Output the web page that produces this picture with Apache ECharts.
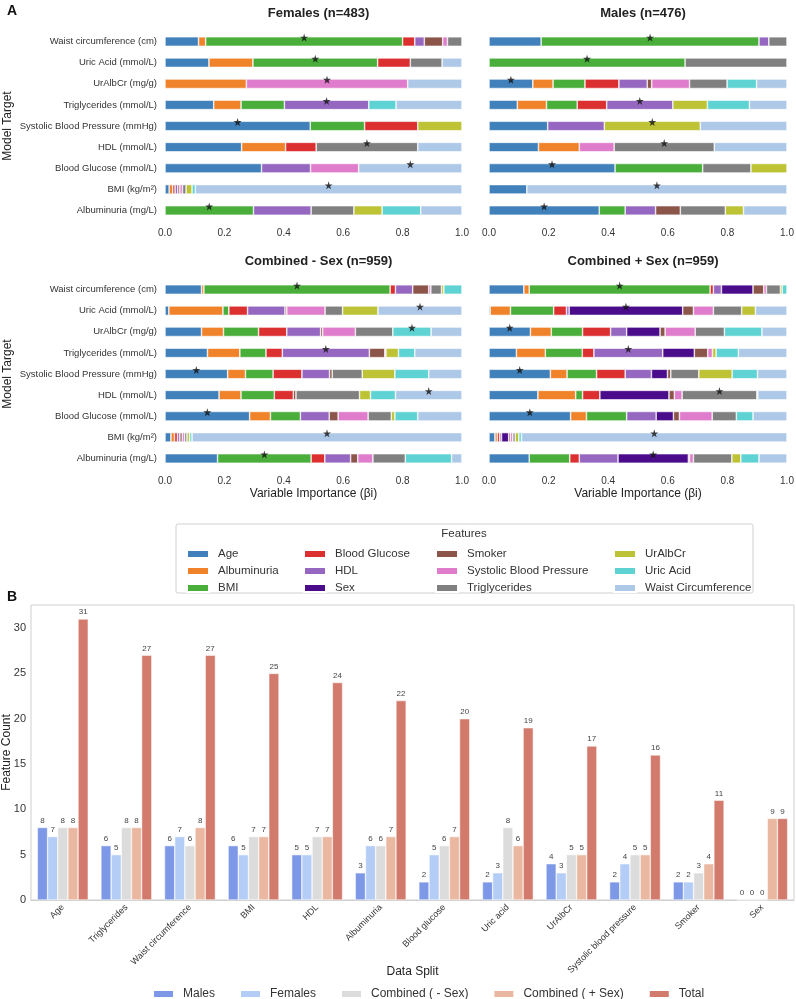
<!DOCTYPE html>
<html>
<head>
<meta charset="utf-8">
<script src="https://cdn.jsdelivr.net/npm/echarts@6/dist/echarts.min.js"></script>
<style>
  html, body { margin: 0; padding: 0; background: #fff; }
  #chart { width: 796px; height: 999px; }
</style>
</head>
<body>
<div id="chart"></div>
<script>
// Panel A: feature importance per model target, stacked to 1.0

const features = ['Age', 'Albuminuria', 'BMI', 'Blood Glucose', 'HDL', 'Sex', 'Smoker',
    'Systolic Blood Pressure', 'Triglycerides', 'UrAlbCr', 'Uric Acid', 'Waist Circumference'];
const featureColors = ['#4181bb', '#f0822a', '#49ae3a', '#dc2f30', '#9567c0', '#4b0c8c', '#8b554a',
    '#e07ccc', '#808080', '#bdc334', '#5fd3d4', '#aec8e8'];

// top to bottom
const targets = ['Waist circumference (cm)', 'Uric Acid (mmol/L)', 'UrAlbCr (mg/g)', 'Triglycerides (mmol/L)',
    'Systolic Blood Pressure (mmHg)', 'HDL (mmol/L)', 'Blood Glucose (mmol/L)', 'BMI (kg/m²)', 'Albuminuria (mg/L)'];

// one row per target, one column per feature (same order as features)
const femalesImp = [
    [.113, .024, .663, .041, .032, 0, .062, .016, .049, 0, 0, 0],
    [.148, .148, .420, .110, 0, 0, 0, 0, .107, 0, 0, .067],
    [0, .274, 0, 0, 0, 0, 0, .543, 0, 0, 0, .183],
    [.164, .092, .146, 0, .284, 0, 0, 0, 0, 0, .092, .222],
    [.489, 0, .183, .179, 0, 0, 0, 0, 0, .149, 0, 0],
    [.258, .148, 0, .103, 0, 0, 0, 0, .342, 0, 0, .149],
    [.325, 0, 0, 0, .165, 0, 0, .162, 0, 0, 0, .348],
    [.014, .012, 0, .008, .009, 0, .007, .009, .012, .020, .011, .898],
    [0, 0, .298, 0, .194, 0, 0, 0, .144, .095, .130, .139]
];
const malesImp = [
    [.175, 0, .731, 0, .033, 0, 0, 0, .061, 0, 0, 0],
    [0, 0, .658, 0, 0, 0, 0, 0, .342, 0, 0, 0],
    [.147, .068, .107, .114, .095, 0, .015, .127, .126, 0, .099, .102],
    [.095, .098, .103, .099, .222, 0, 0, 0, 0, .116, .141, .126],
    [.197, 0, 0, 0, .190, 0, 0, 0, 0, .322, 0, .291],
    [.166, .137, 0, 0, 0, 0, 0, .117, .336, 0, 0, .244],
    [.423, 0, .294, 0, 0, 0, 0, 0, .162, .121, 0, 0],
    [.127, 0, 0, 0, 0, 0, 0, 0, 0, 0, 0, .873],
    [.370, 0, .087, 0, .102, 0, .083, 0, .151, .061, 0, .146]
];
const combNoSexImp = [
    [.123, .008, .627, .018, .058, 0, .054, .007, .036, .008, .061, 0],
    [.013, .182, .020, .063, .126, 0, .006, .129, .059, .119, 0, .283],
    [.123, .074, .118, .095, .114, 0, .007, .110, .126, 0, .129, .104],
    [.143, .109, .088, .055, .293, 0, .052, .004, 0, .042, .055, .159],
    [.211, .060, .093, .097, .093, 0, .009, 0, .101, .110, .114, .112],
    [.182, .074, .112, .064, 0, 0, .009, 0, .214, .037, .084, .224],
    [.285, .070, .101, 0, .097, 0, .030, .101, .078, .012, .077, .149],
    [.020, .012, 0, .010, .008, 0, .008, .008, .008, .009, .008, .909],
    [.177, 0, .315, .046, .087, 0, .024, .051, .109, 0, .156, .035]
];
const combSexImp = [
    [.117, .018, .607, .011, .027, .106, .036, .009, .047, .006, .016, 0],
    [.004, .068, .145, .043, .009, .381, .036, .067, .095, .046, 0, .106],
    [.139, .070, .105, .094, .054, .112, .017, .101, .098, 0, .126, .084],
    [.092, .097, .124, .039, .231, .106, .045, .016, 0, .012, .075, .163],
    [.206, .056, .099, .096, .088, .054, .011, 0, .094, .112, .085, .099],
    [.164, .127, .023, .058, 0, .232, .018, .026, .251, 0, .003, .098],
    [.274, .053, .135, 0, .099, .058, .020, .110, .081, 0, .056, .114],
    [.020, .008, 0, .008, .006, .024, .006, .008, .008, .012, .009, .891],
    [.135, 0, .136, .032, .130, .236, .004, .013, .129, .030, .061, .094]
];

const panelTitles = ['Females (n=483)', 'Males (n=476)', 'Combined - Sex (n=959)', 'Combined + Sex (n=959)'];

// Panel B: how often each feature is selected
const countCategories = ['Age', 'Triglycerides', 'Waist circumference', 'BMI', 'HDL', 'Albuminuria',
    'Blood glucose', 'Uric acid', 'UrAlbCr', 'Systolic blood pressure', 'Smoker', 'Sex'];
const malesCount = [8, 6, 6, 6, 5, 3, 2, 2, 4, 2, 2, 0];
const femalesCount = [7, 5, 7, 5, 5, 6, 5, 3, 3, 4, 2, 0];
const combNoSexCount = [8, 8, 6, 7, 7, 6, 6, 8, 5, 5, 3, 0];
const combSexCount = [8, 8, 8, 7, 7, 7, 7, 6, 5, 5, 4, 9];
const totalCount = [31, 27, 27, 25, 24, 22, 20, 19, 17, 16, 11, 9];
const splitNames = ['Males', 'Females', 'Combined ( - Sex)', 'Combined ( + Sex)', 'Total'];
const splitColors = ['#7d98e6', '#b4cdf6', '#dcdcdc', '#eab8a1', '#d27a6b'];

const FONT = '"Liberation Sans", Arial, sans-serif';
const STAR = 'path://M50,0 L61,35 L98,35 L68,57 L79,91 L50,70 L21,91 L32,57 L2,35 L39,35 Z';

const panelData = [femalesImp, malesImp, combNoSexImp, combSexImp];
const panelGrids = [
    { left: 165, top: 31, width: 297, height: 190 },
    { left: 489, top: 31, width: 298, height: 190 },
    { left: 165, top: 279, width: 297, height: 190 },
    { left: 489, top: 279, width: 298, height: 190 }
];

// star sits on the middle of the largest segment of each bar
function starPoints(rows) {
    return rows.map((r, i) => {
        let m = 0;
        r.forEach((v, j) => { if (v > r[m]) m = j; });
        const start = r.slice(0, m).reduce((a, b) => a + b, 0);
        return [start + r[m] / 2, i];
    });
}

// outerBoundsMode none: keep grids exactly where they are placed
const grids = panelGrids.map(g => ({ ...g, outerBoundsMode: 'none' }));
grids.push({ left: 31, top: 605, width: 763, height: 295, show: true, borderColor: '#cfcfcf', borderWidth: 1, outerBoundsMode: 'none' });

const xAxes = [];
const yAxes = [];
panelData.forEach((rows, p) => {
    const isBottom = p >= 2;
    const isLeft = p % 2 === 0;
    xAxes.push({
        type: 'value', gridIndex: p, min: 0, max: 1, interval: 0.2,
        axisLine: { show: false }, axisTick: { show: false }, splitLine: { show: false },
        axisLabel: { formatter: v => v.toFixed(1), fontSize: 10, color: '#333', fontFamily: FONT, margin: 7 },
        name: isBottom ? 'Variable Importance (βi)' : '',
        nameLocation: 'middle', nameGap: 19, nameMoveOverlap: false,
        nameTextStyle: { fontSize: 12, color: '#222', fontFamily: FONT }
    });
    yAxes.push({
        type: 'category', gridIndex: p, data: targets, inverse: true,
        axisLine: { show: false }, axisTick: { show: false },
        axisLabel: { show: isLeft, fontSize: 9.5, color: '#333', fontFamily: FONT, margin: 8 },
        name: isLeft ? 'Model Target' : '',
        nameLocation: 'middle', nameRotate: 90, nameGap: 151, nameMoveOverlap: false,
        nameTextStyle: { fontSize: 12, color: '#222', fontFamily: FONT }
    });
});
xAxes.push({
    type: 'category', gridIndex: 4, data: countCategories,
    axisLine: { lineStyle: { color: '#cfcfcf' } }, axisTick: { show: false },
    axisLabel: { rotate: 45, interval: 0, fontSize: 9, color: '#333', fontFamily: FONT, margin: 6 },
    name: 'Data Split', nameLocation: 'middle', nameGap: 66, nameMoveOverlap: false,
    nameTextStyle: { fontSize: 12, color: '#222', fontFamily: FONT }
});
yAxes.push({
    type: 'value', gridIndex: 4, min: 0, max: 32.55, interval: 5,
    axisLine: { show: false }, axisTick: { show: false }, splitLine: { show: false },
    axisLabel: { fontSize: 11, color: '#333', fontFamily: FONT, margin: 5, showMaxLabel: false },
    name: 'Feature Count', nameLocation: 'middle', nameRotate: 90, nameGap: 18, nameMoveOverlap: false,
    nameTextStyle: { fontSize: 12, color: '#222', fontFamily: FONT }
});

const series = [];
panelData.forEach((rows, p) => {
    features.forEach((f, j) => {
        series.push({
            type: 'bar', name: f, stack: 'panel' + p,
            xAxisIndex: p, yAxisIndex: p, barWidth: 9.5,
            itemStyle: { color: featureColors[j], borderColor: '#fff', borderWidth: 0.6 },
            data: rows.map(r => (r[j] > 0 ? r[j] : '-'))
        });
    });
    series.push({
        type: 'scatter', xAxisIndex: p, yAxisIndex: p,
        symbol: STAR, symbolSize: 8, symbolOffset: [0, -4], z: 5,
        itemStyle: { color: '#111' },
        data: starPoints(rows)
    });
});
[malesCount, femalesCount, combNoSexCount, combSexCount, totalCount].forEach((vals, k) => {
    series.push({
        type: 'bar', name: splitNames[k], xAxisIndex: 4, yAxisIndex: 4,
        barGap: '0%', barCategoryGap: '20%',
        itemStyle: { color: splitColors[k], borderColor: '#fff', borderWidth: 0.5 },
        label: { show: true, position: 'top', distance: 3, fontSize: 8, color: '#444', fontFamily: FONT },
        data: vals
    });
});

// four column legends for panel A (column-major like the original)
const legendCols = [181, 298, 430, 608];
const legends = legendCols.map((x, c) => ({
    orient: 'vertical', left: x, top: 542,
    data: features.slice(c * 3, c * 3 + 3),
    icon: 'rect', itemWidth: 22, itemHeight: 8, itemGap: 3,
    textStyle: { fontSize: 11.5, color: '#333', fontFamily: FONT, lineHeight: 14, padding: [0, 0, 0, 4] },
    selectedMode: false
}));
legends.push({
    orient: 'horizontal', left: 147, top: 983,
    data: splitNames, icon: 'rect', itemWidth: 21, itemHeight: 8, itemGap: 24,
    textStyle: { fontSize: 12, color: '#333', fontFamily: FONT, padding: [0, 0, 0, 4] },
    selectedMode: false
});

const titles = panelTitles.map((t, p) => ({
    text: t, left: panelGrids[p].left + panelGrids[p].width / 2, top: panelGrids[p].top - 29,
    textAlign: 'center',
    textStyle: { fontSize: 13, fontWeight: 'bold', color: '#222', fontFamily: FONT }
}));

const chart = echarts.init(document.getElementById('chart'));
chart.setOption({
    backgroundColor: '#fff',
    animation: false,
    textStyle: { fontFamily: FONT },
    title: titles,
    grid: grids,
    xAxis: xAxes,
    yAxis: yAxes,
    legend: legends,
    series: series,
    graphic: [
        { type: 'text', left: 7, top: 4, style: { text: 'A', fontSize: 14, fontWeight: 'bold', fill: '#111', fontFamily: FONT } },
        { type: 'text', left: 7, top: 590, style: { text: 'B', fontSize: 14, fontWeight: 'bold', fill: '#111', fontFamily: FONT } },
        { type: 'rect', shape: { x: 176, y: 524, width: 577, height: 69, r: 2 }, style: { fill: 'none', stroke: '#d0d0d0', lineWidth: 1 }, z: -1 },
        { type: 'text', x: 464, y: 528, style: { text: 'Features', fontSize: 11.5, fill: '#333', fontFamily: FONT, align: 'center' } }
    ]
});
</script>
</body>
</html>
